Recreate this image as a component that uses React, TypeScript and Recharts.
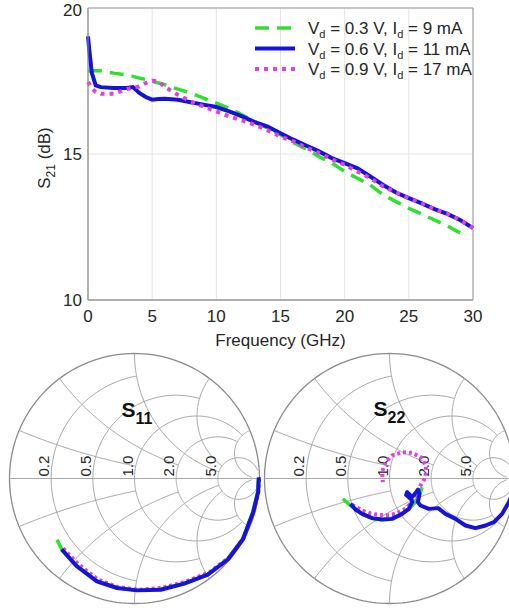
import React from 'react';
import { LineChart, Line, XAxis, YAxis, CartesianGrid, Legend, ReferenceArea, ScatterChart, Scatter } from 'recharts';

const FONT = '"Liberation Sans", Arial, sans-serif';
const TEXT = '#262626';

// S21 vs frequency (GHz)
const FREQ = [0, 0.1, 0.3, 0.6, 1, 2, 3, 3.5, 4, 4.5, 5, 5.5, 6, 7, 8, 9, 10, 11, 12, 13, 14, 15, 16, 17, 18, 19, 20, 21, 22, 23, 24, 25, 26, 27, 28, 29, 30];
const S21_03V = [17.83, 17.84, 17.85, 17.85, 17.85, 17.77, 17.71, 17.66, 17.6, 17.55, 17.49, 17.43, 17.37, 17.22, 17.09, 16.91, 16.74, 16.57, 16.34, 16.11, 15.89, 15.66, 15.39, 15.17, 14.91, 14.69, 14.4, 14.17, 13.94, 13.6, 13.37, 13.14, 12.94, 12.74, 12.54, 12.3, null];
const S21_06V = [19.03, 18.57, 17.77, 17.35, 17.29, 17.26, 17.26, 17.29, 17.09, 16.95, 16.86, 16.88, 16.89, 16.86, 16.77, 16.69, 16.61, 16.46, 16.29, 16.09, 15.94, 15.71, 15.49, 15.29, 15.09, 14.86, 14.69, 14.51, 14.23, 13.94, 13.68, 13.49, 13.31, 13.11, 12.95, 12.74, 12.46];
const S21_09V = [17.47, 17.4, 17.25, 17.12, 17.06, 17.06, 17.22, 17.27, 17.31, 17.43, 17.51, 17.49, 17.29, 17.03, 16.8, 16.63, 16.46, 16.29, 16.15, 16.0, 15.81, 15.6, 15.43, 15.22, 15.03, 14.82, 14.63, 14.4, 14.17, 13.89, 13.68, 13.49, 13.31, 13.11, 12.95, 12.74, 12.46];
const X_TICKS = [0, 5, 10, 15, 20, 25, 30];
const Y_TICKS = [10, 15, 20];

// reflection coefficients [re, im]
const S11_03V: [number, number][] = [[-0.62, -0.49], [-0.585, -0.56], [-0.47, -0.69], [-0.3, -0.82], [-0.14, -0.875], [0.02, -0.895], [0.21, -0.885], [0.4, -0.84], [0.585, -0.77], [0.745, -0.645], [0.865, -0.485], [0.945, -0.27], [0.985, -0.11], [0.99, 0.0]];
const S11_06V: [number, number][] = [[-0.583, -0.567], [-0.462, -0.702], [-0.301, -0.823], [-0.14, -0.876], [0.022, -0.895], [0.21, -0.89], [0.398, -0.841], [0.586, -0.769], [0.747, -0.648], [0.868, -0.486], [0.949, -0.272], [0.989, -0.11], [0.995, 0.01]];
const S11_09V: [number, number][] = [[-0.57, -0.56], [-0.45, -0.685], [-0.29, -0.81], [-0.13, -0.87], [0.03, -0.89], [0.22, -0.875], [0.41, -0.825], [0.6, -0.75], [0.76, -0.63], [0.875, -0.47], [0.955, -0.26], [0.992, -0.1], [0.998, 0.02]];

const S22_03V: [number, number][] = [[-0.373, -0.163], [-0.312, -0.216], [-0.219, -0.283], [-0.112, -0.328], [-0.005, -0.328], [0.075, -0.296], [0.155, -0.243], [0.208, -0.189], [0.248, -0.109], [0.261, -0.069]];
const S22_06V: [number, number][] = [[-0.312, -0.203], [-0.272, -0.248], [-0.219, -0.283], [-0.139, -0.317], [-0.059, -0.328], [0.021, -0.323], [0.101, -0.283], [0.155, -0.243], [0.181, -0.189], [0.168, -0.136], [0.141, -0.109], [0.133, -0.131], [0.168, -0.163], [0.203, -0.123], [0.229, -0.088], [0.24, -0.123], [0.227, -0.189], [0.248, -0.216], [0.315, -0.243], [0.389, -0.237], [0.448, -0.283], [0.528, -0.323], [0.608, -0.376], [0.688, -0.397], [0.768, -0.376], [0.835, -0.349], [0.901, -0.283], [0.955, -0.189], [0.99, -0.1]];
const S22_09V: [number, number][] = [[-0.299, -0.211], [-0.219, -0.256], [-0.139, -0.283], [-0.032, -0.296], [0.048, -0.283], [0.128, -0.243], [0.181, -0.189], [0.208, -0.136], [0.248, -0.056], [0.288, 0.011], [0.293, 0.104], [0.248, 0.171], [0.181, 0.205], [0.101, 0.211], [0.021, 0.184], [-0.032, 0.131], [-0.059, 0.051], [-0.053, -0.029]];

// smith grid values and where each one stops
const R_GRID = [0.2, 0.5, 1, 2, 5];
const R_LIMIT = [1, 2, 5, 5, 30];
const X_GRID = [0.2, 0.5, 1, 2, 5];
const X_LIMIT = [1, 2, 5, 5, 30];

const SERIES = [
  { key: 'v03', vd: '0.3', id: '9', color: '#2fe02f', dash: '14 8', width: 3.5 },
  { key: 'v06', vd: '0.6', id: '11', color: '#1414d8', dash: undefined, width: 4 },
  { key: 'v09', vd: '0.9', id: '17', color: '#e040e0', dash: '4 5', width: 4 },
];

const s21Data = FREQ.map((f, i) => ({ f, v03: S21_03V[i], v06: S21_06V[i], v09: S21_09V[i] }));

const toGamma = (r: number, x: number) => {
  const d = (r + 1) * (r + 1) + x * x;
  return { x: (r * r + x * x - 1) / d, y: (2 * x) / d };
};

const buildGrid = () => {
  const curves: { x: number; y: number }[][] = [];
  curves.push(Array.from({ length: 181 }, (_, i) => ({ x: Math.cos((i * Math.PI) / 90), y: Math.sin((i * Math.PI) / 90) })));
  curves.push([{ x: -1, y: 0 }, { x: 1, y: 0 }]);
  R_GRID.forEach((r, i) => {
    const lim = Math.atan(R_LIMIT[i]);
    const pts = [];
    for (let k = 0; k <= 120; k++) pts.push(toGamma(r, Math.tan(-lim + (2 * lim * k) / 120)));
    curves.push(pts);
  });
  X_GRID.forEach((xv, i) => {
    const lim = Math.atan(X_LIMIT[i]);
    [1, -1].forEach((s) => {
      const pts = [];
      for (let k = 0; k <= 60; k++) pts.push(toGamma(Math.tan((lim * k) / 60), s * xv));
      curves.push(pts);
    });
  });
  return curves;
};

const GRID = buildGrid();
const noShape = () => <g />;

const gridLabels = R_GRID.map((r) => ({ x: (r - 1) / (r + 1), y: 0, label: r.toFixed(1) }));

const GridLabel = (props: any) => (
  <text
    transform={`translate(${props.cx - 2},${props.cy - 2}) rotate(-90)`}
    fontSize={15}
    fill={TEXT}
    fontFamily={FONT}
  >
    {props.payload.label}
  </text>
);

const SmithChart = ({ left, title, traces, titlePos }: any) => {
  const Title = (p: any) => (
    <text x={p.cx} y={p.cy} fontFamily={FONT} fontWeight="bold" fill="#111" fontSize={21}>
      S<tspan dy={7} fontSize={16}>{title}</tspan>
    </text>
  );
  return (
    <div style={{ position: 'absolute', left, top: 350.5 }}>
      <ScatterChart width={255} height={255} margin={{ top: 0, right: 0, bottom: 0, left: 0 }}>
        <XAxis type="number" dataKey="x" domain={[-1.02, 1.02]} hide />
        <YAxis type="number" dataKey="y" domain={[-1.02, 1.02]} hide />
        {GRID.map((pts, i) => (
          <Scatter
            key={`g${i}`}
            data={pts}
            line={{ stroke: i === 0 ? '#8a8a8a' : '#a8a8a8', strokeWidth: i === 0 ? 1.3 : 1 }}
            lineType="joint"
            shape={noShape}
            isAnimationActive={false}
          />
        ))}
        <Scatter data={gridLabels} shape={GridLabel} isAnimationActive={false} />
        <Scatter data={[{ x: titlePos[0], y: titlePos[1] }]} shape={Title} isAnimationActive={false} />
        {[0, 2, 1].map((si) => (
          <Scatter
            key={SERIES[si].key}
            data={traces[si].map(([x, y]: [number, number]) => ({ x, y }))}
            line={{ stroke: SERIES[si].color, strokeWidth: SERIES[si].width, strokeDasharray: si === 2 ? '3 3' : undefined, strokeLinejoin: 'round' }}
            lineType="joint"
            shape={noShape}
            isAnimationActive={false}
          />
        ))}
      </ScatterChart>
    </div>
  );
};

const renderLegend = () => (
  <svg width={230} height={66} style={{ overflow: 'visible' }}>
    {SERIES.map((s, i) => {
      const y = 14 + i * 20.5;
      return (
        <g key={s.key}>
          <line x1={3} x2={43} y1={y} y2={y} stroke={s.color} strokeWidth={s.width} strokeDasharray={s.dash} />
          <text x={56} y={y + 6} fontSize={17} fill={TEXT} fontFamily={FONT}>
            V<tspan dy={4} fontSize={11}>d</tspan>
            <tspan dy={-4}>{` = ${s.vd} V, I`}</tspan>
            <tspan dy={4} fontSize={11}>d</tspan>
            <tspan dy={-4}>{` = ${s.id} mA`}</tspan>
          </text>
        </g>
      );
    })}
  </svg>
);

const XLabel = (p: any) => (
  <text x={p.viewBox.x + p.viewBox.width / 2} y={346} textAnchor="middle" fontSize={17} fill={TEXT} fontFamily={FONT}>
    Frequency (GHz)
  </text>
);

const YLabel = (p: any) => (
  <text transform={`translate(50,${p.viewBox.y + p.viewBox.height / 2 + 4}) rotate(-90)`} textAnchor="middle" fontSize={17} fill={TEXT} fontFamily={FONT}>
    S<tspan dy={5} fontSize={12}>21</tspan>
    <tspan dy={-5}> (dB)</tspan>
  </text>
);

export default function App() {
  return (
    <div style={{ position: 'absolute', left: 0, top: 0, width: 509, height: 608, overflow: 'hidden', background: '#fff', fontFamily: FONT }}>
      <div style={{ position: 'absolute', left: 0, top: 0 }}>
        <LineChart width={509} height={352} data={s21Data} margin={{ top: 8, right: 36, left: 0, bottom: 0 }}>
          <CartesianGrid stroke="#e4e4e4" />
          <XAxis
            dataKey="f"
            type="number"
            domain={[0, 30]}
            ticks={X_TICKS}
            height={52}
            tickLine={false}
            tickSize={0}
            tickMargin={10}
            stroke="#999"
            tick={{ fontSize: 17, fill: TEXT, fontFamily: FONT }}
            label={<XLabel />}
          />
          <YAxis
            type="number"
            domain={[10, 20]}
            ticks={Y_TICKS}
            width={88}
            tickLine={false}
            tickSize={0}
            tickMargin={6}
            stroke="#999"
            tick={{ fontSize: 17, fill: TEXT, fontFamily: FONT }}
            label={<YLabel />}
          />
          <ReferenceArea x1={0} x2={30} y1={10} y2={20} fill="none" stroke="#999" strokeOpacity={1} />
          {SERIES.map((s) => (
            <Line
              key={s.key}
              dataKey={s.key}
              type="linear"
              stroke={s.color}
              strokeWidth={s.width}
              strokeDasharray={s.dash}
              dot={false}
              isAnimationActive={false}
              connectNulls={false}
            />
          ))}
          <Legend
            content={renderLegend}
            layout="horizontal"
            verticalAlign="middle"
            align="center"
            wrapperStyle={{ top: 14, left: 252, width: 230, height: 66 }}
          />
        </LineChart>
      </div>
      <SmithChart left={7} title="11" titlePos={[-0.105, 0.49]} traces={[S11_03V, S11_06V, S11_09V]} />
      <SmithChart left={261.5} title="22" titlePos={[-0.128, 0.504]} traces={[S22_03V, S22_06V, S22_09V]} />
    </div>
  );
}
